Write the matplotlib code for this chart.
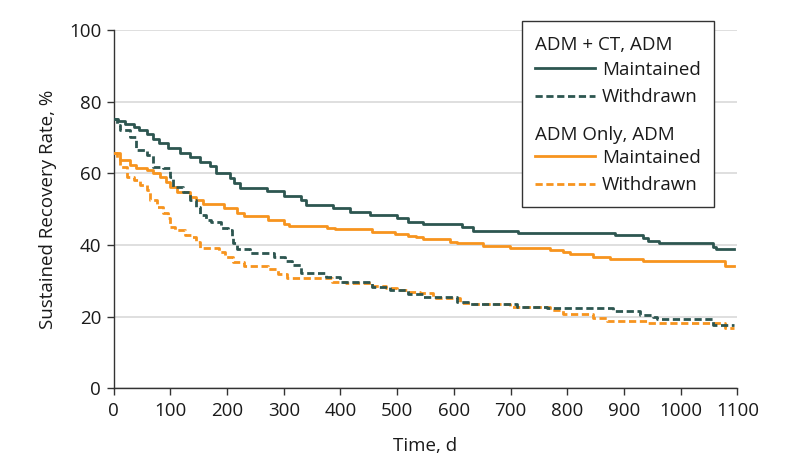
import matplotlib
matplotlib.use("Agg")
import matplotlib.pyplot as plt
from matplotlib.lines import Line2D
from matplotlib.text import Text
from matplotlib.legend_handler import HandlerBase

plt.rcParams['font.family'] = ['Open Sans', 'DejaVu Sans']

# ---- data ----
admct_maint_t = [0, 8, 20, 35, 45, 58, 70, 80, 95, 117, 135, 152, 170, 180, 205, 212, 222, 270,
                 300, 330, 340, 387, 417, 452, 499, 520, 546, 614, 634, 713, 884, 934, 943, 961,
                 1057, 1063, 1095]
admct_maint_v = [75.3, 74.5, 73.8, 73.0, 72.0, 71.0, 69.5, 68.5, 67.0, 65.8, 64.6, 63.2, 62.0,
                 60.0, 58.6, 57.2, 56.0, 55.0, 53.8, 52.6, 51.2, 50.2, 49.3, 48.3, 47.4, 46.4,
                 45.9, 45.1, 44.0, 43.4, 42.8, 41.9, 41.1, 40.5, 39.5, 38.8, 38.8]

admct_with_t = [0, 5, 11, 29, 40, 58, 70, 87, 99, 105, 123, 135, 146, 152, 162, 172, 190, 202,
                208, 211, 218, 240, 283, 302, 315, 330, 375, 399, 455, 487, 520, 546, 606, 629,
                711, 764, 881, 928, 952, 958, 1057, 1095]
admct_with_v = [75.3, 73.5, 72.1, 70.2, 66.5, 65.1, 61.9, 61.4, 59.1, 56.3, 54.9, 52.6, 50.7,
                48.4, 47.0, 46.3, 44.7, 44.2, 42.3, 40.5, 38.9, 37.7, 36.7, 35.5, 34.4, 32.1,
                31.2, 29.7, 28.3, 27.4, 26.3, 25.4, 24.2, 23.5, 22.8, 22.3, 21.6, 20.6, 20.0,
                19.3, 17.7, 17.7]

admonly_maint_t = [0, 11, 29, 40, 58, 70, 82, 93, 99, 111, 135, 146, 158, 195, 217, 229, 272,
                   300, 310, 376, 390, 455, 496, 520, 534, 546, 593, 605, 652, 699, 770, 793,
                   805, 846, 876, 934, 1078, 1095]
admonly_maint_v = [65.6, 63.7, 62.3, 61.4, 60.9, 60.0, 58.9, 57.7, 56.3, 54.9, 53.5, 52.6, 51.4,
                   50.2, 48.8, 48.0, 47.0, 45.8, 45.3, 44.7, 44.4, 43.7, 43.1, 42.6, 42.1, 41.7,
                   40.9, 40.5, 39.8, 39.2, 38.6, 38.0, 37.5, 36.7, 36.1, 35.5, 34.0, 34.0]

admonly_with_t = [0, 5, 11, 23, 35, 46, 58, 64, 76, 87, 96, 100, 108, 125, 138, 146, 152, 186,
                  197, 211, 229, 272, 290, 305, 385, 410, 455, 480, 500, 518, 540, 564, 611, 634,
                  699, 770, 793, 846, 870, 940, 1078, 1095]
admonly_with_v = [65.6, 64.0, 61.9, 59.1, 58.1, 56.7, 55.3, 52.6, 50.7, 48.8, 47.4, 45.1, 44.2,
                  42.8, 42.3, 40.9, 39.3, 38.1, 36.7, 35.3, 34.2, 33.2, 32.0, 30.9, 29.8, 29.5,
                  28.6, 28.0, 27.5, 27.0, 26.5, 25.1, 23.9, 23.4, 22.8, 21.9, 20.8, 19.7, 18.9,
                  18.3, 16.7, 16.7]

x_ticks = list(range(0, 1101, 100))
y_ticks = [0, 20, 40, 60, 80, 100]
group_titles = ["ADM + CT, ADM", "ADM Only, ADM"]
entry_labels = ["Maintained", "Withdrawn"]

TEAL = '#2D5650'
ORANGE = '#F7941E'
FS = 13.5

fig = plt.figure(figsize=(7.94, 4.75), dpi=100)
ax = fig.add_axes([0.1432, 0.1825, 0.9286 - 0.1432, 0.9368 - 0.1825])

lw = 2.0
dash = (0, (2.6, 1.3))
l1, = ax.step(admct_maint_t, admct_maint_v, where='post', color=TEAL, lw=lw, zorder=4)
l2, = ax.step(admct_with_t, admct_with_v, where='post', color=TEAL, lw=lw, ls=dash, zorder=4)
l3, = ax.step(admonly_maint_t, admonly_maint_v, where='post', color=ORANGE, lw=lw, zorder=3)
l4, = ax.step(admonly_with_t, admonly_with_v, where='post', color=ORANGE, lw=lw, ls=dash, zorder=3)

ax.set_xlim(0, 1100)
ax.set_ylim(0, 100)
ax.set_xticks(x_ticks)
ax.set_yticks(y_ticks)
ax.tick_params(axis='both', labelsize=FS, length=5, width=1, color='#333333',
               labelcolor='#1a1a1a', pad=4)
ax.tick_params(axis='x', pad=5)
for s in ['top', 'right']:
    ax.spines[s].set_visible(False)
for s in ['left', 'bottom']:
    ax.spines[s].set_color('#333333')
    ax.spines[s].set_linewidth(1)
ax.yaxis.grid(True, color='#d9d9d9', lw=1.2, zorder=0)
ax.set_axisbelow(True)
ax.set_xlabel("Time, d", fontsize=FS, color='#1a1a1a', labelpad=12)
ax.set_ylabel("Sustained Recovery Rate, %", fontsize=FS, color='#1a1a1a', labelpad=8.5)


class HeaderHandler(HandlerBase):
    def __init__(self, text, dy=0.0):
        super().__init__()
        self.text = text
        self.dy = dy

    def create_artists(self, legend, orig_handle, xdescent, ydescent, width, height,
                       fontsize, trans):
        t = Text(-xdescent, -ydescent + height / 2 - self.dy, self.text, fontsize=fontsize,
                 va='center', ha='left', color='#1a1a1a', transform=trans)
        return [t]


h1 = Line2D([], [])
h2 = Line2D([], [])
handles = [h1, l1, l2, h2, l3, l4]
labels = [' ', entry_labels[0], entry_labels[1], ' ', entry_labels[0], entry_labels[1]]
leg = ax.legend(handles, labels, loc='upper left', bbox_to_anchor=(0.654, 1.025),
                borderaxespad=0, fontsize=FS, frameon=True, fancybox=False,
                edgecolor='#333333', framealpha=1, handlelength=3.2, handletextpad=0.4,
                borderpad=0.7, labelspacing=0.5,
                handler_map={h1: HeaderHandler(group_titles[0], dy=3),
                             h2: HeaderHandler(group_titles[1], dy=6)})
leg.get_frame().set_linewidth(1)
texts = leg.get_texts()
for t in texts:
    t.set_color('#1a1a1a')
texts[0].set_fontsize(10)
texts[3].set_fontsize(17.5)

fig.savefig('out.png', dpi=100)
